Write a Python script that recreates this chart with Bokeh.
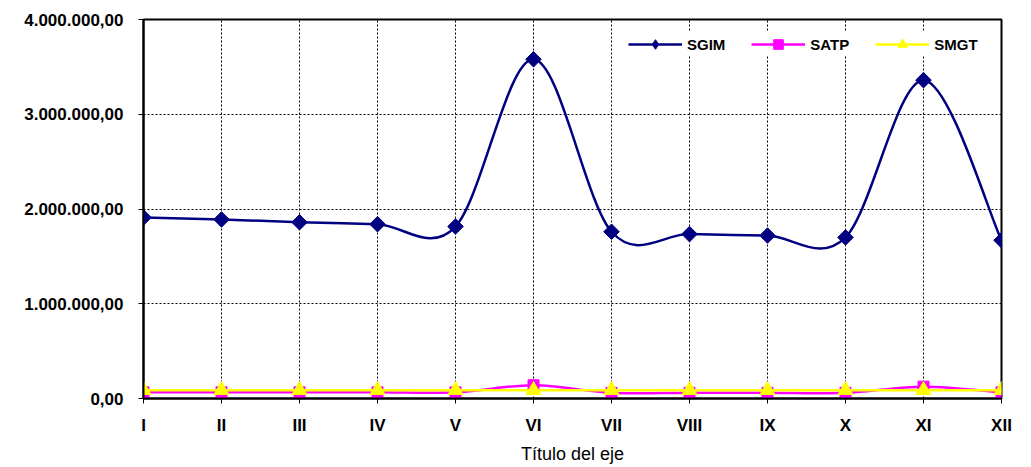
import math
from bokeh.plotting import figure
from bokeh.models import FixedTicker, Legend, LegendItem, Range1d
from bokeh.embed import file_html
from bokeh.resources import INLINE

categories = ["I", "II", "III", "IV", "V", "VI", "VII", "VIII", "IX", "X", "XI", "XII"]
sgim = [1910000, 1890000, 1860000, 1840000, 1815000, 3580000, 1760000, 1735000, 1720000, 1700000, 3360000, 1670000]
satp = [65000, 65000, 65000, 65000, 65000, 140000, 60000, 60000, 60000, 60000, 125000, 65000]
smgt = [88000, 88000, 88000, 88000, 88000, 88000, 88000, 88000, 88000, 88000, 88000, 88000]
y_ticks = [0, 1000000, 2000000, 3000000, 4000000]
y_tick_labels = ["0,00", "1.000.000,00", "2.000.000,00", "3.000.000,00", "4.000.000,00"]
x_title = "Título del eje"

FONT = "Liberation Sans"

p = figure(width=1023, height=466, output_backend="svg", toolbar_location=None,
           x_range=Range1d(0, len(categories) - 1), y_range=Range1d(0, 4000000),
           min_border_left=143, min_border_right=22, min_border_top=19, min_border_bottom=68)
p.background_fill_color = "white"
p.border_fill_color = "white"
p.outline_line_color = "black"
p.outline_line_width = 2

xs = list(range(len(categories)))


def smooth_segments(ys):
    n = len(ys)
    x0, y0, x1, y1, cx0, cy0, cx1, cy1 = [], [], [], [], [], [], [], []
    for i in range(n - 1):
        im1 = max(i - 1, 0)
        ip2 = min(i + 2, n - 1)
        x0.append(xs[i]); y0.append(ys[i])
        x1.append(xs[i + 1]); y1.append(ys[i + 1])
        cx0.append(xs[i] + (xs[i + 1] - xs[im1]) / 6.0)
        cy0.append(ys[i] + (ys[i + 1] - ys[im1]) / 6.0)
        cx1.append(xs[i + 1] - (xs[ip2] - xs[i]) / 6.0)
        cy1.append(ys[i + 1] - (ys[ip2] - ys[i]) / 6.0)
    return dict(x0=x0, y0=y0, x1=x1, y1=y1, cx0=cx0, cy0=cy0, cx1=cx1, cy1=cy1)


series = [
    ("SGIM", sgim, "#000080", "diamond", 14, "square", 11, math.pi / 4),
    ("SATP", satp, "#FF00FF", "square", 11, None, 0, 0.0),
    ("SMGT", smgt, "#FFFF00", "triangle", 15, None, 0, 0.0),
]

items = []
for name, ys, color, marker, size, top_marker, top_size, ang in series:
    seg = smooth_segments(ys)
    b = p.bezier(x0=seg["x0"], y0=seg["y0"], x1=seg["x1"], y1=seg["y1"],
                 cx0=seg["cx0"], cy0=seg["cy0"], cx1=seg["cx1"], cy1=seg["cy1"],
                 line_color=color, line_width=2.5)
    s = p.scatter(xs, ys, marker=marker, size=size, fill_color=color, line_color=color)
    if top_marker is not None:
        p.scatter(xs, ys, marker=top_marker, size=top_size, angle=ang,
                  fill_color=color, line_color=color)
    items.append(LegendItem(label=name, renderers=[b, s]))

legend = Legend(items=items, orientation="horizontal", location=(485, 342),
                glyph_width=54, glyph_height=24, label_standoff=5, spacing=26,
                padding=10, margin=0, border_line_color=None,
                background_fill_color="white", background_fill_alpha=1.0,
                label_text_font=FONT, label_text_font_style="bold",
                label_text_font_size="15px", label_text_color="black")
p.add_layout(legend)

# grids
p.xgrid.ticker = FixedTicker(ticks=xs)
p.xgrid.grid_line_color = "black"
p.xgrid.grid_line_dash = "2 2"
p.xgrid.grid_line_width = 1
p.ygrid.ticker = FixedTicker(ticks=y_ticks)
p.ygrid.grid_line_color = "black"
p.ygrid.grid_line_dash = "2 2"
p.ygrid.grid_line_width = 1

# x axis
p.xaxis.ticker = FixedTicker(ticks=xs)
p.xaxis.major_label_overrides = {i: c for i, c in enumerate(categories)}
p.xaxis.axis_label = x_title
p.xaxis.axis_label_text_font = FONT
p.xaxis.axis_label_text_font_style = "normal"
p.xaxis.axis_label_text_font_size = "18px"
p.xaxis.axis_label_text_color = "black"
p.xaxis.axis_label_standoff = 6
p.xaxis.major_label_text_font = FONT
p.xaxis.major_label_text_font_style = "bold"
p.xaxis.major_label_text_font_size = "17px"
p.xaxis.major_label_text_color = "black"
p.xaxis.major_label_standoff = 12
p.xaxis.minor_tick_line_color = None
p.xaxis.major_tick_out = 5
p.xaxis.major_tick_in = 0
p.xaxis.axis_line_width = 2
p.xaxis.axis_line_color = "black"
p.xaxis.major_tick_line_color = "black"
p.xaxis.major_tick_line_width = 1

# y axis
p.yaxis.ticker = FixedTicker(ticks=y_ticks)
p.yaxis.major_label_overrides = {t: l for t, l in zip(y_ticks, y_tick_labels)}
p.yaxis.major_label_text_font = FONT
p.yaxis.major_label_text_font_style = "bold"
p.yaxis.major_label_text_font_size = "17px"
p.yaxis.major_label_text_color = "black"
p.yaxis.major_label_standoff = 15
p.yaxis.minor_tick_line_color = None
p.yaxis.major_tick_out = 5
p.yaxis.major_tick_in = 0
p.yaxis.axis_line_width = 2
p.yaxis.axis_line_color = "black"
p.yaxis.major_tick_line_color = "black"
p.yaxis.major_tick_line_width = 1

open("out.html", "w").write(file_html(p, INLINE))
